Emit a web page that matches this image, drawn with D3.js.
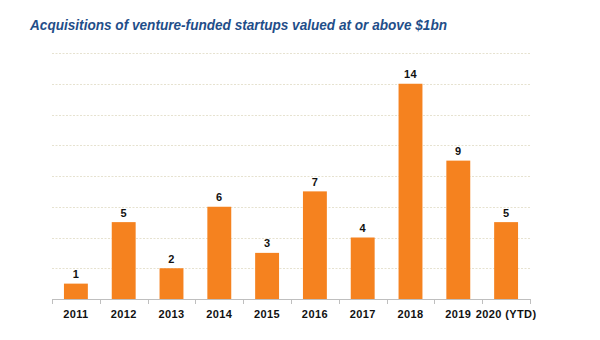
<!DOCTYPE html>
<html><head><meta charset="utf-8">
<script src="https://cdn.jsdelivr.net/npm/d3@7"></script>
<style>body{margin:0;background:#fff}svg{display:block}</style>
</head><body>
<svg id="c" width="600" height="340"></svg>
<script>
const categories = ["2011","2012","2013","2014","2015","2016","2017","2018","2019","2020 (YTD)"];
const values = [1,5,2,6,3,7,4,14,9,5];
const gridTicks = [2,4,6,8,10,12,14,16];
const title = "Acquisitions of venture-funded startups valued at or above $1bn";

const svg = d3.select("#c");
const m = {l:52, r:70, t:53, b:41};
const W = 600, H = 340;
const x = d3.scaleBand().domain(categories).range([m.l, W - m.r]).paddingInner(0.5).paddingOuter(0.25);
const y = d3.scaleLinear().domain([0,16]).range([H - m.b, m.t]);

svg.append("text").attr("x",30).attr("y",29.5)
  .attr("font-family","Liberation Sans, Arial, sans-serif").attr("font-weight","bold").attr("font-style","italic")
  .attr("font-size",15).attr("fill","#1F4E89").attr("textLength",417).attr("lengthAdjust","spacingAndGlyphs")
  .text(title);

svg.append("g").selectAll("line").data(gridTicks).join("line")
  .attr("x1",m.l).attr("x2",W-m.r).attr("y1",d=>Math.round(y(d))+0.5).attr("y2",d=>Math.round(y(d))+0.5)
  .attr("stroke","#e6e2d0").attr("stroke-width",1).attr("stroke-dasharray","2,1.5");

svg.append("g").selectAll("rect").data(values).join("rect")
  .attr("x",(d,i)=>x(categories[i])).attr("width",x.bandwidth())
  .attr("y",d=>y(d)).attr("height",d=>y(0)-y(d)).attr("fill","#F5821F");

svg.append("g").selectAll("text").data(values).join("text")
  .attr("x",(d,i)=>x(categories[i])+x.bandwidth()/2).attr("y",d=>y(d)-5.5)
  .attr("text-anchor","middle").attr("font-family","Liberation Sans, Arial, sans-serif")
  .attr("font-weight","bold").attr("font-size",11).attr("letter-spacing",0.3).attr("fill","#111").text(d=>d);

const xAxis = d3.axisBottom(x).tickSize(0).tickPadding(11);
const ga = svg.append("g").attr("transform",`translate(0,${y(0)})`).call(xAxis);
ga.select(".domain").attr("stroke","#bfbfbf").attr("d",`M${m.l},0.5H${W-m.r}`);
ga.selectAll("text").attr("font-family","Liberation Sans, Arial, sans-serif").attr("font-weight","bold")
  .attr("font-size",11).attr("letter-spacing",0.4).attr("fill","#111");
const step = x.step();
const bounds = d3.range(categories.length+1).map(i => m.l + i*(W-m.l-m.r)/categories.length);
ga.append("g").selectAll("line").data(bounds).join("line")
  .attr("x1",d=>Math.round(d)+0.5).attr("x2",d=>Math.round(d)+0.5).attr("y1",0).attr("y2",5)
  .attr("stroke","#bfbfbf");
</script>
</body></html>
